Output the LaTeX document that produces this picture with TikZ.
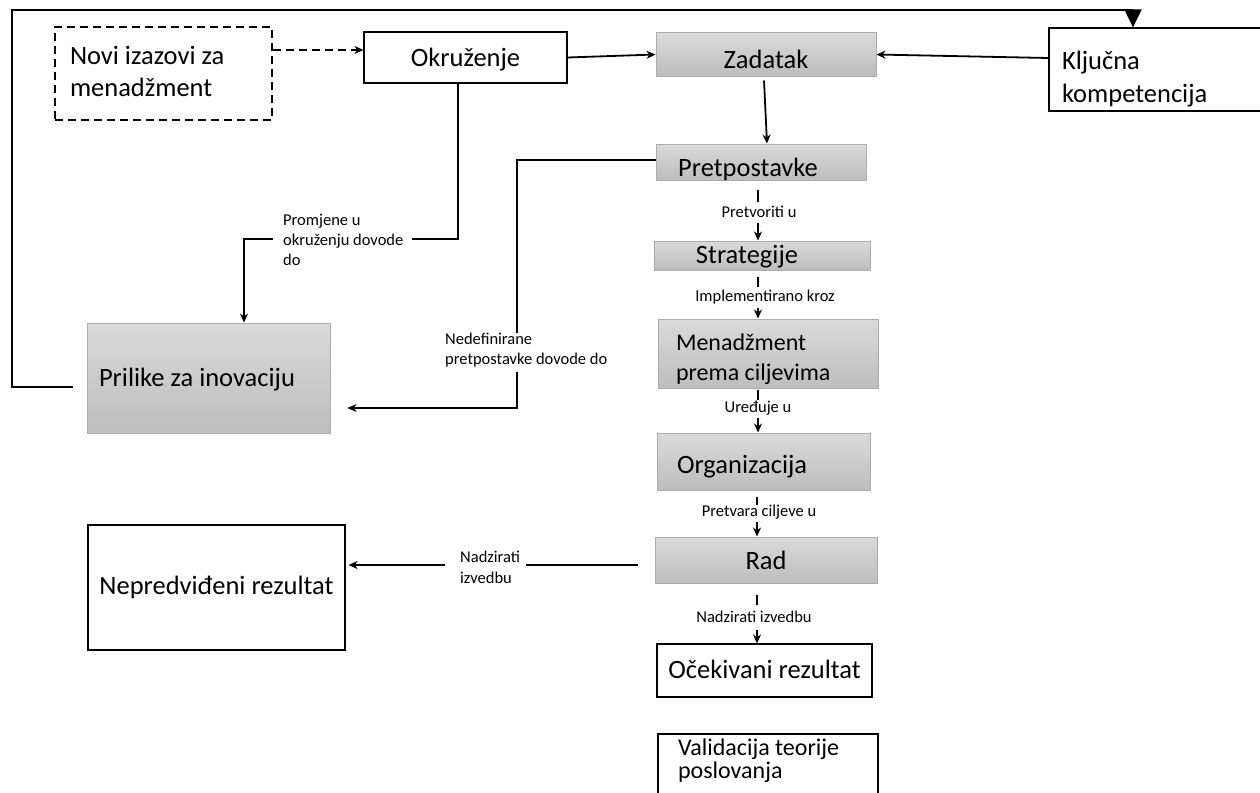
\documentclass[tikz,border=0pt]{standalone}
\usepackage{fontspec}
\setmainfont{Carlito}
\usetikzlibrary{arrows.meta,calc}
\definecolor{gtop}{RGB}{218,218,218}
\definecolor{gbot}{RGB}{189,189,189}
\definecolor{gbrd}{RGB}{172,172,172}
% place text with its (first) baseline #1 below the node centre
\newcommand{\bl}[2]{\raisebox{-#1}[0pt][0pt]{#2}}
\newcommand{\mlines}[1]{\begin{tabular}[t]{@{}l@{}}#1\end{tabular}}
\tikzset{
  bx/.style={draw=black, line width=1.2pt, fill=white, inner sep=0pt, align=center, font=\fontsize{26.5}{32}\selectfont},
  gb/.style={draw=gbrd, line width=1pt, top color=gtop, bottom color=gbot, inner sep=0pt, align=center, font=\fontsize{26.5}{32}\selectfont},
  lab/.style={inner sep=0pt, align=flush left, font=\fontsize{16.5}{20}\selectfont},
  ln/.style={line width=1.8pt},
  arr/.style={ln, -{Stealth[length=9pt,width=8pt]}},
  bigarr/.style={ln, -{Triangle[length=18pt,width=17pt]}}
}
\begin{document}
\begin{tikzpicture}[x=1pt,y=-1pt]
\useasboundingbox (0,0) rectangle (1260,792);

% boxes
\node[bx, line width=2pt, dash pattern=on 8pt off 5pt, minimum width=217pt, minimum height=93pt,
      text width=187pt, inner xsep=15pt, align=flush left]
      (novi) at (163.5,73.5) {\bl{-8.5pt}{\mlines{Novi izazovi za\\menadžment}}};
\node[bx, minimum width=203pt, minimum height=51pt] (okr) at (465.5,57.5) {\bl{9pt}{Okruženje}};
\node[gb, minimum width=220pt, minimum height=43pt] (zad) at (766,54.5) {\bl{13.5pt}{Zadatak}};
\node[bx, minimum width=213pt, minimum height=83pt, text width=187pt, inner xsep=13pt, align=flush left]
      (klj) at (1155.5,69.5) {\bl{0.5pt}{\mlines{Ključna\\kompetencija}}};
\node[gb, minimum width=210pt, minimum height=36pt] (pre) at (761,162) {\bl{14pt}{Pretpostavke}\hspace*{26pt}};
\node[gb, minimum width=216pt, minimum height=29pt] (str) at (762,255.5) {\bl{7.5pt}{Strategije}\hspace*{30pt}};
\node[gb, minimum width=220pt, minimum height=69pt, text width=184pt, inner xsep=18pt, align=flush left,
      font=\fontsize{24}{30}\selectfont] (men) at (768,353.5) {\bl{-3.5pt}{\mlines{Menadžment\\prema ciljevima}}};
\node[gb, minimum width=213pt, minimum height=57pt, text width=173pt, inner xsep=20pt, align=flush left]
      (org) at (763.5,461.5) {\bl{11.5pt}{Organizacija}};
\node[gb, minimum width=222pt, minimum height=46pt] (rad) at (766,560) {\bl{9pt}{Rad}};
\node[bx, minimum width=215pt, minimum height=53pt] (oce) at (764.5,670.5) {\bl{7.5pt}{Očekivani rezultat}};
\node[bx, minimum width=220pt, minimum height=70pt, text width=180pt, inner xsep=20pt, align=flush left,
      font=\fontsize{24}{22}\selectfont] (val) at (768,769) {\bl{-14pt}{\mlines{Validacija teorije\\poslovanja}}};
\node[gb, minimum width=243pt, minimum height=110pt, text width=219pt, inner xsep=12pt, align=flush left]
      (pri) at (208.5,378) {\bl{8pt}{Prilike za inovaciju}};
\node[bx, minimum width=257pt, minimum height=125pt] (nep) at (216.5,587.5) {\bl{6.5pt}{Nepredviđeni rezultat}};

% labels
\node[lab, anchor=west] (lp) at (283,240) {Promjene u\\okruženju dovode\\do};
\node[lab, anchor=west] (lnd) at (445,350) {Nedefinirane\\pretpostavke dovode do};
\node[lab, anchor=west, font=\fontsize{16.5}{21}\selectfont] (lr) at (460,567) {Nadzirati\\izvedbu};
\node[lab] (l1) at (759,212) {Pretvoriti u};
\node[lab] (l2) at (765,297) {Implementirano kroz};
\node[lab] (l3) at (758,408) {Uređuje u};
\node[lab] (l4) at (759,512) {Pretvara ciljeve u};
\node[lab] (l5) at (754,617) {Nadzirati izvedbu};

% feedback loop
\coordinate (fbs) at (73,387);
\draw[bigarr] (fbs) -- (12,387) -- (12,10) -- (1133,10) -- (klj.north -| 1133,0);

% top connectors
\draw[arr, dash pattern=on 8pt off 5pt] (novi.east |- 0,50) -- (okr.west |- 0,50);
\draw[arr] (okr.east) -- (zad.west);
\draw[arr] (klj.west |- 0,58) -- (zad.east);
\draw[arr] ([xshift=-2pt,yshift=-4pt]zad.south) -- ([xshift=6pt]pre.north);

% Okruzenje -> Prilike
\draw[ln] (okr.south -| 458,0) -- (458,239) -- ([xshift=8pt]lp.east |- 0,239);
\draw[arr] ([xshift=-10pt]lp.west |- 0,239) -- (244,239) -- (pri.north -| 244,0);

% Pretpostavke -> Prilike
\draw[ln] (pre.west |- 0,160) -- (517,160) -- (lnd.north -| 517,0);
\draw[arr] ([yshift=-5pt]lnd.south -| 517,0) -- (517,408) -- ([xshift=17pt]pri.east |- 0,408);

% central chain
\draw[ln] ([xshift=-1pt,yshift=22pt]l1.center) -- ([xshift=-1pt,yshift=10pt]l1.center);
\draw[arr] ([xshift=-1pt,yshift=-11pt]l1.center) -- ([xshift=-1pt]str.north -| l1.center);
\draw[ln] ([xshift=-7pt,yshift=20pt]l2.center) -- ([xshift=-7pt,yshift=10pt]l2.center);
\draw[arr] ([xshift=-7pt,yshift=-11pt]l2.center) -- ([xshift=-7pt]men.north -| l2.center);
\draw[ln] ([yshift=18pt]l3.center) -- ([yshift=8pt]l3.center);
\draw[arr] ([yshift=-10pt]l3.center) -- (org.north -| l3.center);
\draw[ln] ([xshift=-2pt,yshift=15pt]l4.center) -- ([xshift=-2pt,yshift=7pt]l4.center);
\draw[arr] ([xshift=-2pt,yshift=-10pt]l4.center) -- ([xshift=-2pt]rad.north -| l4.center);
\draw[ln] ([xshift=3pt,yshift=22pt]l5.center) -- ([xshift=3pt,yshift=12pt]l5.center);
\draw[arr] ([xshift=3pt,yshift=-13pt]l5.center) -- ([xshift=3pt]oce.north -| l5.center);

% Rad -> Nepredvideni
\draw[ln] ([xshift=-17pt]rad.west |- 0,565) -- ([xshift=6pt]lr.east |- 0,565);
\draw[arr] ([xshift=-15pt]lr.west |- 0,565) -- ([xshift=3pt]nep.east |- 0,565);
\end{tikzpicture}
\end{document}
